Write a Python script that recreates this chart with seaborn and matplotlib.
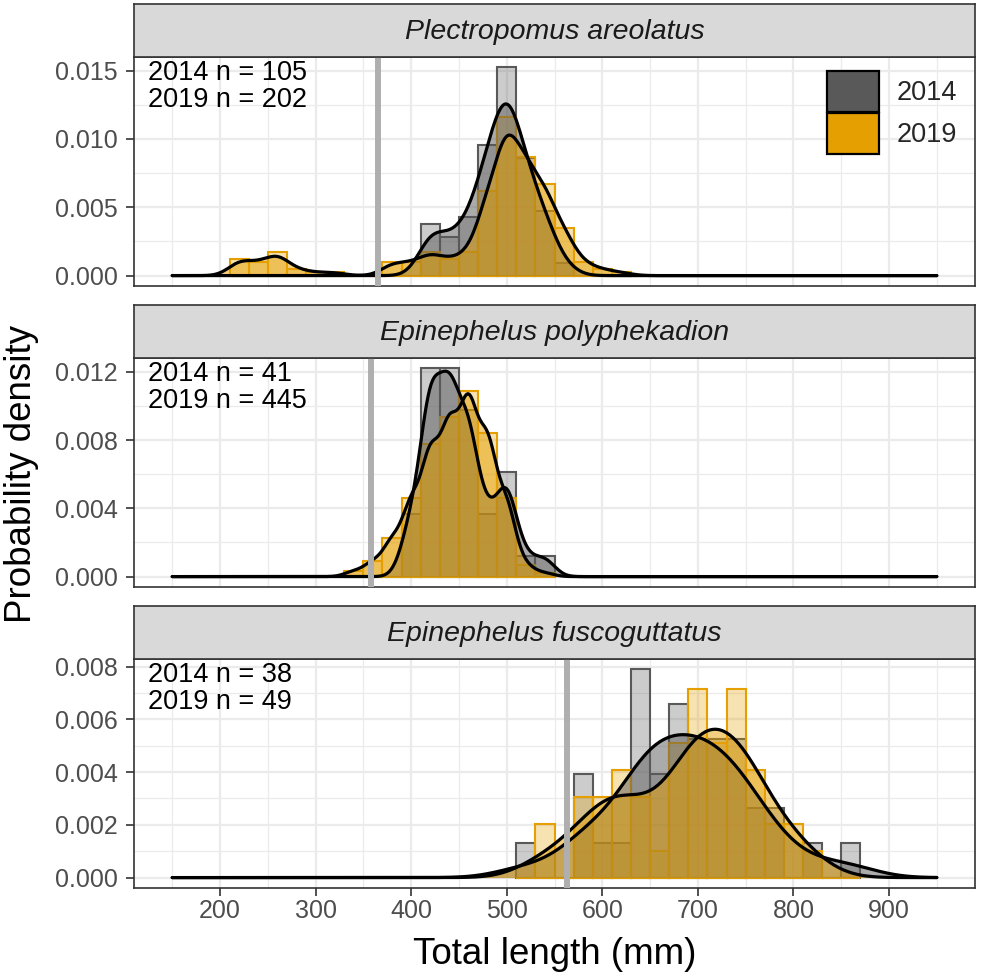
import numpy as np
import pandas as pd
import matplotlib
matplotlib.use("Agg")
import matplotlib.pyplot as plt
from matplotlib.patches import Patch
from matplotlib.ticker import MultipleLocator, FormatStrFormatter
import seaborn as sns

sns.set_style("white")
plt.rcParams['font.family'] = ['Liberation Sans', 'DejaVu Sans']

# Data: 20 mm length bins (centres) and fish counts per survey year
species = ["Plectropomus areolatus", "Epinephelus polyphekadion", "Epinephelus fuscoguttatus"]
years = ["2014", "2019"]

pa_bins = [220, 240, 260, 280, 300, 320, 380, 400, 420, 440, 460, 480, 500, 520, 540, 560, 580, 600, 620]
pa_2014 = [0, 0, 0, 0, 0, 0, 0, 0, 8, 6, 9, 20, 32, 18, 10, 2, 0, 0, 0]
pa_2019 = [5, 4, 7, 2, 1, 1, 4, 4, 7, 5, 7, 25, 47, 35, 27, 14, 4, 2, 1]

ep_bins = [340, 360, 380, 400, 420, 440, 460, 480, 500, 520, 540]
ep_2014 = [0, 0, 0, 3, 10, 10, 8, 3, 5, 1, 1]
ep_2019 = [3, 8, 20, 41, 69, 83, 97, 75, 41, 6, 2]

ef_bins = [520, 540, 560, 580, 600, 620, 640, 660, 680, 700, 720, 740, 760, 780, 800, 820, 840, 860]
ef_2014 = [1, 0, 0, 3, 1, 1, 6, 3, 5, 4, 4, 4, 2, 2, 0, 1, 0, 1]
ef_2019 = [0, 2, 0, 3, 3, 4, 3, 1, 5, 7, 5, 7, 4, 2, 2, 1, 0, 0]

# length at maturity reference lines (mm)
maturity = [365, 358, 563]
y_steps = [0.005, 0.004, 0.002]
# smoothing of the density curves, per panel and year
bw_adjust = [[1.3, 1.3], [0.85, 1.0], [1.0, 1.0]]

colors = {"2014": "#595959", "2019": "#E69F00"}

# rebuild individual lengths from the binned counts
rows = []
for sp, bins, c14, c19 in zip(species, [pa_bins, ep_bins, ef_bins],
                              [pa_2014, ep_2014, ef_2014], [pa_2019, ep_2019, ef_2019]):
    for yr, counts in zip(years, [c14, c19]):
        for L in np.repeat(bins, counts):
            rows.append({"species": sp, "year": yr, "length": float(L)})
df = pd.DataFrame(rows)


def nrd0(kde):
    # R's default bandwidth rule (bw.nrd0)
    x = kde.dataset[0]
    sd = x.std(ddof=1)
    q75, q25 = np.percentile(x, [75, 25])
    h = 0.9 * min(sd, (q75 - q25) / 1.34) * len(x) ** (-0.2)
    return h / sd


W, H = 981, 977
fig = plt.figure(figsize=(W / 100, H / 100), dpi=100)

left, right = 134, 975
strip_h, panel_h = 53, 229
strip_tops = [4, 305, 606]

for i, sp in enumerate(species):
    top = strip_tops[i]
    ax = fig.add_axes([left / W, 1 - (top + strip_h + panel_h) / H, (right - left) / W, panel_h / H])
    sax = fig.add_axes([left / W, 1 - (top + strip_h) / H, (right - left) / W, strip_h / H])

    sub = df[df["species"] == sp]
    lo, hi = sub["length"].min() - 10, sub["length"].max() + 10

    for yr in years:
        d = sub[sub["year"] == yr]
        sns.histplot(data=d, x="length", stat="density", binwidth=20, binrange=(lo, hi),
                     color=colors[yr], alpha=0.3, edgecolor=colors[yr], linewidth=1.5, ax=ax)
    for j, yr in enumerate(years):
        d = sub[sub["year"] == yr]
        kde_kws = dict(bw_method=nrd0, bw_adjust=bw_adjust[i][j], cut=100, clip=(150, 950), gridsize=500)
        sns.kdeplot(data=d, x="length", fill=True, color=colors[yr], alpha=0.5, linewidth=0,
                    ax=ax, **kde_kws)
        sns.kdeplot(data=d, x="length", color="black", linewidth=2.3, ax=ax, **kde_kws)

    ax.axvline(maturity[i], color="#AFAFAF", linewidth=4.3, zorder=10)

    ymax = ax.dataLim.y1
    ax.set_ylim(-0.05 * ymax, 1.05 * ymax)
    ax.set_xlim(110, 990)
    ax.set_xticks(list(range(200, 901, 100)))
    ax.xaxis.set_minor_locator(MultipleLocator(50))
    ax.yaxis.set_major_locator(MultipleLocator(y_steps[i]))
    ax.yaxis.set_minor_locator(MultipleLocator(y_steps[i] / 2))
    ax.yaxis.set_major_formatter(FormatStrFormatter("%.3f"))

    ax.grid(which="major", color="#EBEBEB", linewidth=1.6)
    ax.grid(which="minor", color="#EBEBEB", linewidth=0.9)
    ax.set_axisbelow(True)
    for s in ax.spines.values():
        s.set_color("#333333")
        s.set_linewidth(1.2)
    ax.tick_params(which="major", direction="out", length=5.5, width=1.2, color="#333333",
                   labelcolor="#4D4D4D", labelsize=18, left=True, bottom=True)
    ax.tick_params(axis="y", pad=6)
    ax.tick_params(axis="x", pad=2.5)
    ax.tick_params(which="minor", length=0)
    if i < 2:
        ax.tick_params(axis="x", bottom=False, labelbottom=False)
    ax.set_xlabel("")
    ax.set_ylabel("")

    n14 = int((sub["year"] == "2014").sum())
    n19 = int((sub["year"] == "2019").sum())
    ax.text(0.0166, 0.985, f"2014 n = {n14}\n2019 n = {n19}", transform=ax.transAxes,
            ha="left", va="top", fontsize=19.5, linespacing=1.05, color="black")

    sax.set_facecolor("#D9D9D9")
    sax.set_xticks([])
    sax.set_yticks([])
    for s in sax.spines.values():
        s.set_color("#333333")
        s.set_linewidth(1.2)
    sax.text(0.5, 0.47, sp, transform=sax.transAxes, ha="center", va="center",
             fontsize=20.5, style="italic", color="#1A1A1A")

    if i == 0:
        handles = [Patch(facecolor=colors[yr], edgecolor="black", linewidth=1.6) for yr in years]
        ax.legend(handles, years, loc="upper right", bbox_to_anchor=(0.979, 0.94), frameon=False,
                  fontsize=19.5, handlelength=1.95, handleheight=1.95, handletextpad=0.65,
                  labelspacing=0.05, borderpad=0, borderaxespad=0)

fig.text(22 / W, 1 - 474 / H, "Probability density", rotation=90, ha="center", va="center",
         fontsize=26.5, color="black")
fig.text((left + right) / 2 / W, 1 - 955 / H, "Total length (mm)", ha="center", va="center",
         fontsize=26.5, color="black")

plt.savefig("out.png", dpi=100)
